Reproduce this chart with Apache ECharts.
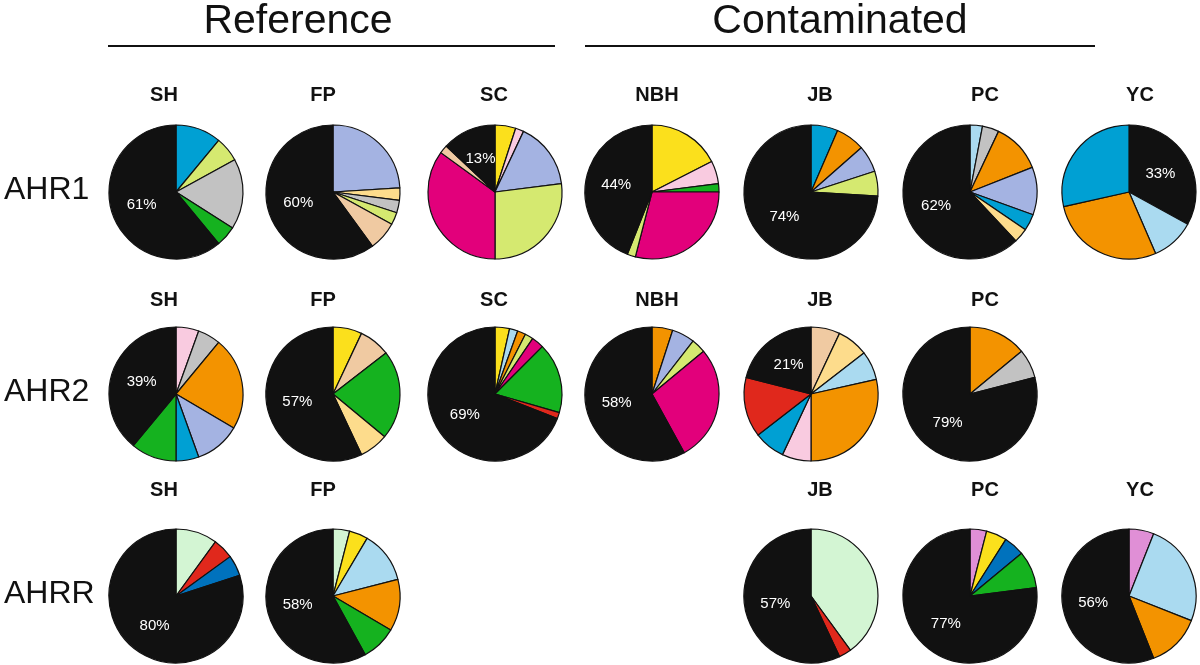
<!DOCTYPE html>
<html>
<head>
<meta charset="utf-8">
<script src="https://cdn.jsdelivr.net/npm/echarts@6/dist/echarts.min.js"></script>
<style>html,body{margin:0;padding:0;background:#fff}#c{width:1200px;height:665px}</style>
</head>
<body>
<div id="c"></div>
<script>
// ---- categories ----
const groups = ['Reference', 'Contaminated'];
const genes = ['AHR1', 'AHR2', 'AHRR'];
const sites = ['SH', 'FP', 'SC', 'NBH', 'JB', 'PC', 'YC'];

// ---- haplotype slices (clockwise from 12 o'clock) and their shares (%) ----
const AHR1_SH_slices = ['cyan', 'lime', 'grey', 'green', 'black'];
const AHR1_SH_values = [11, 6, 17, 5, 61];
const AHR1_FP_slices = ['lavender', 'lightyellow', 'grey', 'lime', 'peach', 'black'];
const AHR1_FP_values = [24, 3, 3, 3, 7, 60];
const AHR1_SC_slices = ['yellow', 'pink', 'lavender', 'lime', 'magenta', 'peach', 'black'];
const AHR1_SC_values = [5, 2, 16, 27, 35, 2, 13];
const AHR1_NBH_slices = ['yellow', 'pink', 'green', 'magenta', 'lime', 'black'];
const AHR1_NBH_values = [17.5, 5.5, 2, 29, 2, 44];
const AHR1_JB_slices = ['cyan', 'orange', 'lavender', 'lime', 'black'];
const AHR1_JB_values = [6.5, 7, 6.5, 6, 74];
const AHR1_PC_slices = ['lightblue', 'grey', 'orange', 'lavender', 'cyan', 'lightyellow', 'black'];
const AHR1_PC_values = [3, 4, 12, 11.5, 4, 3.5, 62];
const AHR1_YC_slices = ['black', 'lightblue', 'orange', 'cyan'];
const AHR1_YC_values = [33, 10.5, 28, 28.5];

const AHR2_SH_slices = ['pink', 'grey', 'orange', 'lavender', 'cyan', 'green', 'black'];
const AHR2_SH_values = [5.5, 5.5, 22.5, 11, 5.5, 11, 39];
const AHR2_FP_slices = ['yellow', 'peach', 'green', 'lightyellow', 'black'];
const AHR2_FP_values = [7, 7.5, 21.5, 7, 57];
const AHR2_SC_slices = ['yellow', 'lightblue', 'orange', 'lime', 'magenta', 'green', 'red', 'black'];
const AHR2_SC_values = [3.5, 2, 2, 2, 3, 17, 1.5, 69];
const AHR2_NBH_slices = ['orange', 'lavender', 'lime', 'magenta', 'black'];
const AHR2_NBH_values = [5, 5.5, 3.5, 28, 58];
const AHR2_JB_slices = ['peach', 'lightyellow', 'lightblue', 'orange', 'pink', 'cyan', 'red', 'black'];
const AHR2_JB_values = [7, 7.5, 7, 28.5, 7, 7.5, 14.5, 21];
const AHR2_PC_slices = ['orange', 'grey', 'black'];
const AHR2_PC_values = [14, 7, 79];

const AHRR_SH_slices = ['lightgreen', 'red', 'blue', 'black'];
const AHRR_SH_values = [10, 5, 5, 80];
const AHRR_FP_slices = ['lightgreen', 'yellow', 'lightblue', 'orange', 'green', 'black'];
const AHRR_FP_values = [4, 4.5, 12.5, 12.5, 8.5, 58];
const AHRR_JB_slices = ['lightgreen', 'red', 'black'];
const AHRR_JB_values = [40, 3, 57];
const AHRR_PC_slices = ['orchid', 'yellow', 'blue', 'green', 'black'];
const AHRR_PC_values = [4, 5, 5, 9, 77];
const AHRR_YC_slices = ['orchid', 'lightblue', 'orange', 'black'];
const AHRR_YC_values = [6, 25, 13, 56];

// pies: [gene, site, slices, values, printed label]
const pies = [
  ['AHR1', 'SH', AHR1_SH_slices, AHR1_SH_values, '61%'],
  ['AHR1', 'FP', AHR1_FP_slices, AHR1_FP_values, '60%'],
  ['AHR1', 'SC', AHR1_SC_slices, AHR1_SC_values, '13%'],
  ['AHR1', 'NBH', AHR1_NBH_slices, AHR1_NBH_values, '44%'],
  ['AHR1', 'JB', AHR1_JB_slices, AHR1_JB_values, '74%'],
  ['AHR1', 'PC', AHR1_PC_slices, AHR1_PC_values, '62%'],
  ['AHR1', 'YC', AHR1_YC_slices, AHR1_YC_values, '33%'],
  ['AHR2', 'SH', AHR2_SH_slices, AHR2_SH_values, '39%'],
  ['AHR2', 'FP', AHR2_FP_slices, AHR2_FP_values, '57%'],
  ['AHR2', 'SC', AHR2_SC_slices, AHR2_SC_values, '69%'],
  ['AHR2', 'NBH', AHR2_NBH_slices, AHR2_NBH_values, '58%'],
  ['AHR2', 'JB', AHR2_JB_slices, AHR2_JB_values, '21%'],
  ['AHR2', 'PC', AHR2_PC_slices, AHR2_PC_values, '79%'],
  ['AHRR', 'SH', AHRR_SH_slices, AHRR_SH_values, '80%'],
  ['AHRR', 'FP', AHRR_FP_slices, AHRR_FP_values, '58%'],
  ['AHRR', 'JB', AHRR_JB_slices, AHRR_JB_values, '57%'],
  ['AHRR', 'PC', AHRR_PC_slices, AHRR_PC_values, '77%'],
  ['AHRR', 'YC', AHRR_YC_slices, AHRR_YC_values, '56%']
];

// ---- styles / layout ----
const palette = {
  black: '#111111', cyan: '#00a0d3', lime: '#d5e970', grey: '#c2c2c2', green: '#15b21f',
  lavender: '#a4b3e2', lightyellow: '#fddc8c', peach: '#f0caa2', yellow: '#fbe01c',
  pink: '#f9cbe0', magenta: '#e2007b', orange: '#f39300', lightblue: '#aadaf0',
  red: '#e0281c', blue: '#0072bd', lightgreen: '#d3f5d3', orchid: '#e08fd6'
};
const colX = {SH: 176, FP: 333, SC: 495, NBH: 652, JB: 811, PC: 970, YC: 1129};
const siteLabelX = {SH: 164, FP: 323, SC: 494, NBH: 657, JB: 820, PC: 985, YC: 1140};
const rowY = {AHR1: 192, AHR2: 394, AHRR: 596};
const labelY = {AHR1: 95, AHR2: 300, AHRR: 490};
const R = 67;
const FONT = '"Liberation Sans", Arial, Helvetica, sans-serif';

const series = pies.map(([g, s, slices, values, lab]) => ({
  type: 'pie',
  silent: true,
  animation: false,
  center: [colX[s], rowY[g]],
  radius: [0, R],
  startAngle: 90,
  clockwise: true,
  avoidLabelOverlap: false,
  itemStyle: {borderColor: '#111', borderWidth: 1.2},
  label: {show: false},
  labelLine: {show: false},
  emphasis: {disabled: true},
  data: slices.map((k, i) => ({
    name: k,
    value: values[i],
    itemStyle: {color: palette[k]},
    label: k === 'black' ? {
      show: true, position: 'inside', formatter: lab, color: '#fff',
      fontSize: 15, fontFamily: FONT
    } : {show: false}
  }))
}));

const graphic = [];
// group titles and rules
graphic.push({type: 'text', x: 298, y: 22, style: {text: groups[0], font: '41px ' + FONT, fill: '#111', textAlign: 'center', textVerticalAlign: 'middle'}});
graphic.push({type: 'text', x: 840, y: 22, style: {text: groups[1], font: '41px ' + FONT, fill: '#111', textAlign: 'center', textVerticalAlign: 'middle'}});
graphic.push({type: 'line', shape: {x1: 108, y1: 46, x2: 555, y2: 46}, style: {stroke: '#111', lineWidth: 2}});
graphic.push({type: 'line', shape: {x1: 585, y1: 46, x2: 1095, y2: 46}, style: {stroke: '#111', lineWidth: 2}});
// gene labels
genes.forEach(g => {
  graphic.push({type: 'text', x: 4, y: rowY[g] - 2, style: {text: g, font: '32px ' + FONT, fill: '#111', textAlign: 'left', textVerticalAlign: 'middle'}});
});
// site labels
pies.forEach(([g, s]) => {
  graphic.push({type: 'text', x: siteLabelX[s], y: labelY[g], style: {text: s, font: 'bold 20px ' + FONT, fill: '#111', textAlign: 'center', textVerticalAlign: 'middle'}});
});

const chart = echarts.init(document.getElementById('c'), null, {renderer: 'canvas'});
chart.setOption({backgroundColor: '#fff', animation: false, series, graphic});
</script>
</body>
</html>
